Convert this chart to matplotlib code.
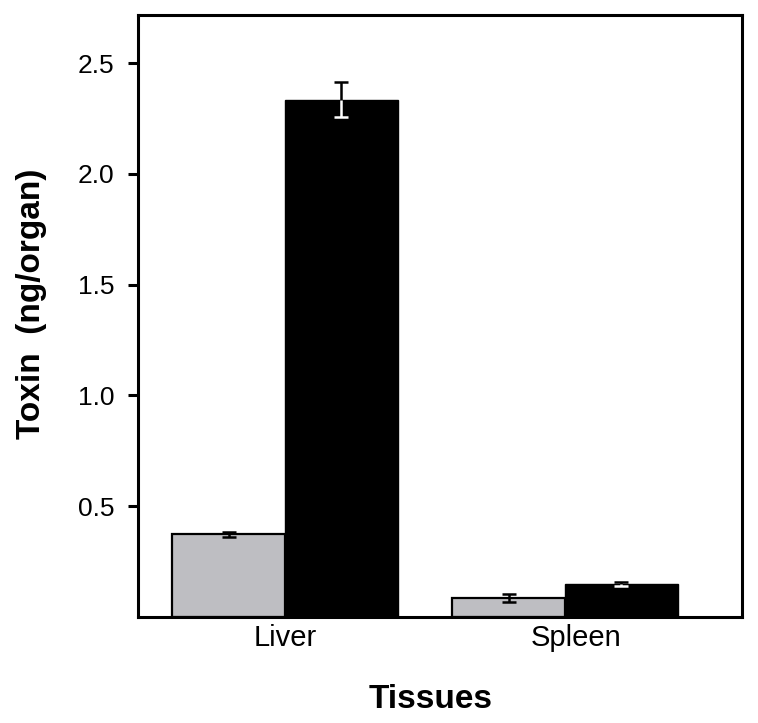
import matplotlib
matplotlib.use("Agg")
import matplotlib.pyplot as plt
import matplotlib.transforms as mtransforms
import numpy as np

tissues = ["Liver", "Spleen"]
gray_vals = [0.373, 0.086]
gray_err = [0.012, 0.017]
black_vals = [2.335, 0.150]
black_err = [0.080, 0.008]
yticks = [0.5, 1.0, 1.5, 2.0, 2.5]
ytick_labels = ["0.5", "1.0", "1.5", "2.0", "2.5"]

plt.rcParams['font.family'] = ['Liberation Sans', 'DejaVu Sans']

fig = plt.figure(figsize=(7.58, 7.23), dpi=100)
ax = fig.add_axes([0.182, 0.1466, 0.797, 0.8326])

x = np.arange(len(tissues))
w = 0.402
capw = 0.025
gv = np.array(gray_vals); ge = np.array(gray_err)
bv = np.array(black_vals); be = np.array(black_err)

ax.bar(x - w/2, gv, w, color='#bebec2', edgecolor='black', linewidth=1.6, zorder=2)
ax.bar(x + w/2, bv, w, color='black', edgecolor='black', linewidth=1.0, zorder=2)

# gray bar error bars (black)
ax.errorbar(x - w/2, gv, yerr=ge, fmt='none', ecolor='black', elinewidth=1.8,
            capsize=5, capthick=1.8, zorder=3)
# black bar error bars: upper part black, lower part white
xb = x + w/2
ax.vlines(xb, bv, bv + be, color='black', linewidth=1.8, zorder=3)
ax.hlines(bv + be, xb - capw, xb + capw, color='black', linewidth=1.8, zorder=3)
ax.vlines(xb, bv - be, bv, color='white', linewidth=1.8, zorder=3)
ax.hlines(bv - be, xb - capw, xb + capw, color='white', linewidth=1.8, zorder=3)

ax.set_xlim(-0.525, 1.632)
ax.set_ylim(0, 2.717)
ax.set_xticks(x)
ax.set_xticklabels(tissues, fontsize=21)
ax.set_yticks(yticks)
ax.set_yticklabels(ytick_labels, fontsize=19)
ax.tick_params(axis='x', length=0, pad=5)
ax.tick_params(axis='y', direction='out', length=7, width=2.2, pad=10)
for s in ax.spines.values():
    s.set_linewidth(2.2)

# nudge Spleen label slightly right as in the reference
lbls = ax.get_xticklabels()
lbls[1].set_transform(lbls[1].get_transform() +
                      mtransforms.ScaledTranslation(11/100, 0, fig.dpi_scale_trans))

ax.set_ylabel("Toxin  (ng/organ)", fontsize=24, fontweight='bold')
ax.yaxis.set_label_coords(-0.150, 0.52)
ax.set_xlabel("Tissues", fontsize=24, fontweight='bold')
ax.xaxis.set_label_coords(0.485, -0.111)

fig.savefig("out.png", dpi=100)
